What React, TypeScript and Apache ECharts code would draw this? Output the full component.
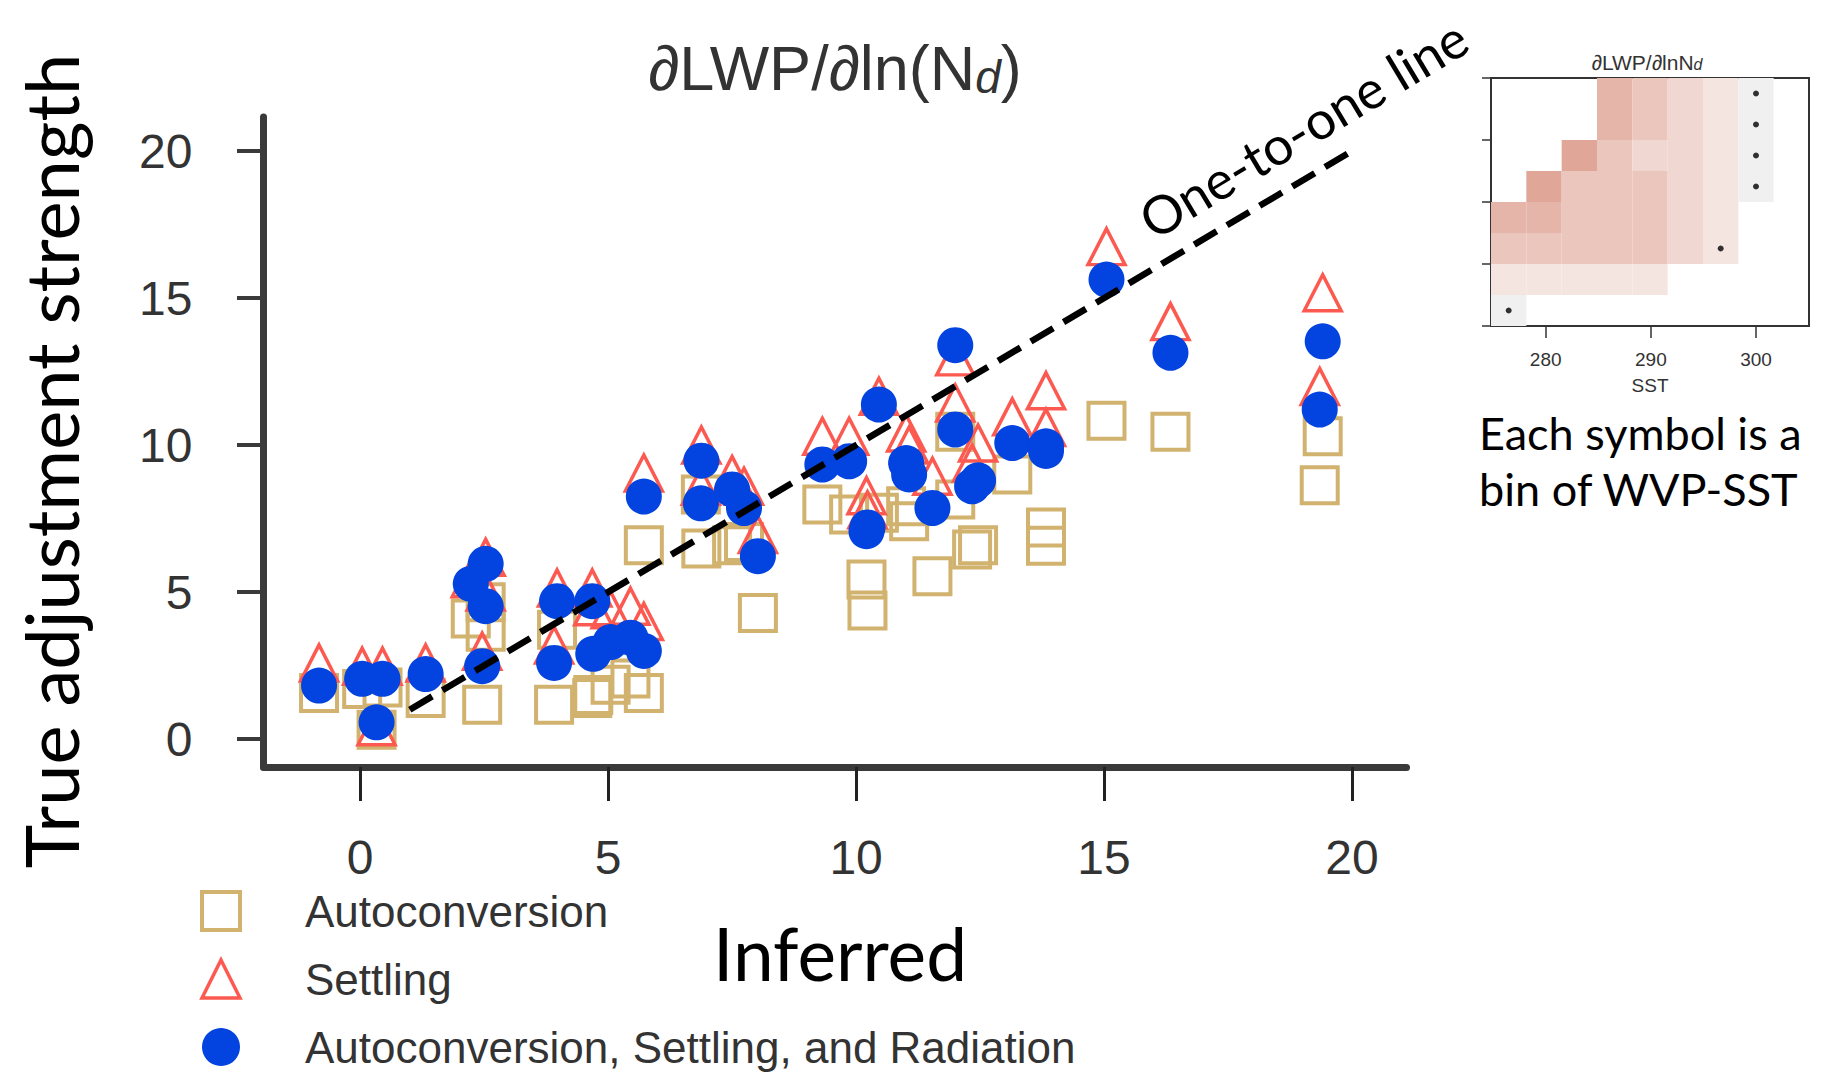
import React, { useEffect, useRef } from 'react';
import * as echarts from 'echarts';

// ---------- main scatter data (one entry per WVP-SST bin) ----------
const inferred = [-0.83, 0.04, 0.45, 0.33, 1.32, 2.46, 2.23, 2.53, 2.53, 3.91, 3.97, 4.68, 4.70, 5.05, 5.45, 5.72, 5.72, 6.88, 6.87, 7.50, 7.74, 8.02, 9.32, 9.86, 10.21, 10.23, 10.46, 11.01, 11.07, 11.54, 12.00, 12.00, 12.34, 12.46, 13.15, 13.83, 13.83, 15.05, 16.34, 19.41, 19.35];
const trueAutoconversion = [1.57, 1.70, 1.75, 0.32, 1.40, 1.17, 4.10, 4.65, 3.65, 1.17, 3.72, 1.40, 1.50, 1.85, 2.06, 1.57, 6.59, 6.48, 8.32, 6.59, 6.70, 4.29, 7.98, 7.64, 5.43, 4.37, 7.70, 7.92, 7.41, 5.54, 10.45, 8.15, 6.45, 6.59, 9.00, 7.20, 6.58, 10.83, 10.45, 10.30, 8.63];
const trueSettling = [2.59, 2.48, 2.48, 0.42, 2.59, 2.99, 5.45, 6.18, 5.00, 3.20, 5.14, 5.14, 4.50, 4.40, 4.52, 4.00, 9.05, 10.00, 8.60, 9.00, 8.60, 6.96, 10.30, 10.30, 8.28, 7.80, 11.66, 10.41, 10.00, 8.94, 13.00, 11.43, 9.39, 10.07, 10.96, 11.85, 10.60, 16.75, 14.20, 15.18, 11.99];
const trueAllProcesses = [1.82, 2.05, 2.05, 0.57, 2.21, 2.48, 5.28, 5.96, 4.52, 2.59, 4.69, 4.69, 2.90, 3.30, 3.45, 3.00, 8.25, 9.47, 8.02, 8.49, 7.86, 6.22, 9.34, 9.45, 7.07, 7.20, 11.38, 9.39, 9.00, 7.86, 13.40, 10.53, 8.60, 8.80, 10.07, 9.96, 9.80, 15.63, 13.14, 13.53, 11.21];
const oneToOne = [1, 20];
const mainTicks = [0, 5, 10, 15, 20];
const seriesNames = ['Autoconversion', 'Settling', 'Autoconversion, Settling, and Radiation'];

// ---------- inset heatmap (WVP-SST bins) ----------
const sstTicks = [280, 290, 300];
const sstBinStart = 274.8;
const sstBinWidth = 3.36;
const wvpRowCount = 8;
// rows listed from top to bottom, 9 SST columns; -1 = empty bin
const heatLevels = [
  [-1, -1, -1, 4, 3, 2, 1, 0, -1],
  [-1, -1, -1, 4, 3, 2, 1, 0, -1],
  [-1, -1, 5, 3, 2, 2, 1, 0, -1],
  [-1, 5, 3, 3, 3, 2, 1, 0, -1],
  [4, 4, 3, 3, 3, 2, 1, -1, -1],
  [3, 3, 3, 3, 3, 2, 1, -1, -1],
  [1, 1, 1, 1, 1, -1, -1, -1, -1],
  [0, -1, -1, -1, -1, -1, -1, -1, -1],
];
const levelColors = ['#f0f0f0', '#f5e5e1', '#f1d7d1', '#eac6bd', '#e4b5a8', '#e0a698'];
// [column, row-from-top] of bins marked with a dot
const dotCells = [[7, 0], [7, 1], [7, 2], [7, 3], [6, 5], [0, 7]];

const TAN = '#d1b26f';
const CORAL = '#fc5a50';
const BLUE = '#0343df';
const ARIAL = "'Liberation Sans', Arial, Helvetica, sans-serif";
const CALIBRI = "Lato, 'Open Sans', sans-serif";
const TXT = '#333333';

function buildOption() {
  const heatData: number[][] = [];
  heatLevels.forEach((row, r) => {
    row.forEach((lv, c) => {
      if (lv >= 0) {
        const y0 = wvpRowCount - 1 - r;
        heatData.push([sstBinStart + c * sstBinWidth, sstBinStart + (c + 1) * sstBinWidth, y0, y0 + 1, lv]);
      }
    });
  });
  const dotData = dotCells.map(([c, r]) => [sstBinStart + (c + 0.5) * sstBinWidth, wvpRowCount - 1 - r + 0.5]);

  const zip = (ys: number[]) => inferred.map((x, i) => [x, ys[i]]);

  return {
    animation: false,
    backgroundColor: '#ffffff',
    textStyle: { fontFamily: ARIAL },
    grid: [
      { left: 263.5, top: 117, width: 1143, height: 650, outerBoundsMode: 'none', containLabel: false },
      {
        left: 1491, top: 78, width: 318, height: 248, show: true, borderColor: '#333333', borderWidth: 2,
        backgroundColor: 'rgba(0,0,0,0)', outerBoundsMode: 'none', containLabel: false,
      },
    ],
    xAxis: [
      {
        type: 'value', gridIndex: 0, min: -1.95, max: 21.1,
        axisLine: { show: true, onZero: false, lineStyle: { color: '#3a3a3a', width: 7 } },
        axisTick: { show: true, customValues: mainTicks, length: 34, lineStyle: { color: '#222222', width: 3 } },
        axisLabel: { show: true, customValues: mainTicks, margin: 66, fontSize: 48, fontFamily: ARIAL, color: TXT },
        splitLine: { show: false },
      },
      {
        type: 'value', gridIndex: 1, min: sstBinStart, max: sstBinStart + 9 * sstBinWidth,
        axisLine: { show: false, onZero: false },
        axisTick: { show: true, customValues: sstTicks, length: 12, lineStyle: { color: '#333333', width: 1.5 } },
        axisLabel: { show: true, customValues: sstTicks, margin: 24, fontSize: 19, fontFamily: ARIAL, color: TXT },
        splitLine: { show: false },
      },
    ],
    yAxis: [
      {
        type: 'value', gridIndex: 0, min: -0.95, max: 21.16,
        axisLine: { show: true, onZero: false, lineStyle: { color: '#3a3a3a', width: 7 } },
        axisTick: { show: true, customValues: mainTicks, length: 26.5, lineStyle: { color: '#3a3a3a', width: 4 } },
        axisLabel: { show: true, customValues: mainTicks, margin: 71, fontSize: 48, fontFamily: ARIAL, color: TXT },
        splitLine: { show: false },
      },
      {
        type: 'value', gridIndex: 1, min: 0, max: wvpRowCount, interval: 2,
        axisLine: { show: false, onZero: false },
        axisTick: { show: true, length: 9, lineStyle: { color: '#333333', width: 1.5 } },
        axisLabel: { show: false },
        splitLine: { show: false },
      },
    ],
    legend: {
      show: true, type: 'plain', orient: 'vertical', left: 195, top: 884, width: 900, height: 240,
      itemWidth: 38, itemHeight: 38, itemGap: 24, selectedMode: false,
      textStyle: { fontSize: 44, fontFamily: ARIAL, color: TXT, lineHeight: 38, padding: [0, 0, 0, 60] },
      data: [
        { name: seriesNames[0], icon: 'rect', itemStyle: { color: 'rgba(0,0,0,0)', borderColor: TAN, borderWidth: 4 } },
        { name: seriesNames[1], icon: 'triangle', itemStyle: { color: 'rgba(0,0,0,0)', borderColor: CORAL, borderWidth: 3.5 } },
        { name: seriesNames[2], icon: 'circle', itemStyle: { color: BLUE, borderWidth: 0 } },
      ],
    },
    series: [
      {
        name: seriesNames[0], type: 'scatter', xAxisIndex: 0, yAxisIndex: 0, data: zip(trueAutoconversion),
        symbol: 'rect', symbolSize: 36, silent: true, z: 2,
        itemStyle: { color: 'rgba(0,0,0,0)', borderColor: TAN, borderWidth: 4, opacity: 1 },
      },
      {
        name: seriesNames[1], type: 'scatter', xAxisIndex: 0, yAxisIndex: 0, data: zip(trueSettling),
        symbol: 'triangle', symbolSize: [37, 36], silent: true, z: 3,
        itemStyle: { color: 'rgba(0,0,0,0)', borderColor: CORAL, borderWidth: 3.5, opacity: 1 },
      },
      {
        name: seriesNames[2], type: 'scatter', xAxisIndex: 0, yAxisIndex: 0, data: zip(trueAllProcesses),
        symbol: 'circle', symbolSize: 36, silent: true, z: 4,
        itemStyle: { color: BLUE, borderWidth: 0, opacity: 1 },
      },
      {
        name: 'One-to-one line', type: 'line', xAxisIndex: 0, yAxisIndex: 0,
        data: [[oneToOne[0], oneToOne[0]], [oneToOne[1], oneToOne[1]]],
        symbol: 'none', silent: true, z: 6,
        lineStyle: { color: '#000000', width: 6.5, type: [26, 12], cap: 'butt' },
      },
      {
        name: 'WVP-SST bins', type: 'custom', xAxisIndex: 1, yAxisIndex: 1, data: heatData,
        encode: { x: [0, 1], y: [2, 3] }, silent: true, z: 1, clip: true,
        renderItem: (params: any, api: any) => {
          const p0 = api.coord([api.value(0), api.value(2)]);
          const p1 = api.coord([api.value(1), api.value(3)]);
          return {
            type: 'rect',
            shape: { x: p0[0], y: p1[1], width: p1[0] - p0[0], height: p0[1] - p1[1] },
            style: { fill: levelColors[api.value(4)], stroke: null },
          };
        },
      },
      {
        name: 'Marked bins', type: 'scatter', xAxisIndex: 1, yAxisIndex: 1, data: dotData,
        symbol: 'circle', symbolSize: 6, silent: true, z: 3,
        itemStyle: { color: '#000000' },
      },
    ],
    graphic: [
      {
        type: 'text', x: 835, y: 68, silent: true,
        style: {
          text: '{a|∂LWP/∂ln(N}{s|d}{a|)}', align: 'center', verticalAlign: 'middle',
          rich: {
            a: { fontSize: 63, fontFamily: ARIAL, fill: TXT, lineHeight: 63 },
            s: { fontSize: 46, fontFamily: ARIAL, fontStyle: 'italic', fill: TXT, lineHeight: 32, verticalAlign: 'bottom' },
          },
        },
      },
      {
        type: 'text', x: 840, y: 953, silent: true,
        style: { text: 'Inferred', fontSize: 73, fontFamily: CALIBRI, fill: '#000000', align: 'center', verticalAlign: 'middle' },
      },
      {
        type: 'text', x: 50, y: 461, rotation: Math.PI / 2, silent: true,
        style: { text: 'True adjustment strength', fontSize: 74, fontFamily: CALIBRI, fill: '#000000', align: 'center', verticalAlign: 'middle' },
      },
      {
        type: 'text', x: 1303, y: 128, rotation: (31 * Math.PI) / 180, silent: true,
        style: { text: 'One-to-one line', fontSize: 53, fontFamily: CALIBRI, fill: '#000000', align: 'center', verticalAlign: 'middle' },
      },
      {
        type: 'text', x: 1647, y: 62, silent: true,
        style: {
          text: '{a|∂LWP/∂lnN}{s|d}', align: 'center', verticalAlign: 'middle',
          rich: {
            a: { fontSize: 21, fontFamily: ARIAL, fill: TXT, lineHeight: 21 },
            s: { fontSize: 16, fontFamily: ARIAL, fontStyle: 'italic', fill: TXT, lineHeight: 11, verticalAlign: 'bottom' },
          },
        },
      },
      {
        type: 'text', x: 1650, y: 385, silent: true,
        style: { text: 'SST', fontSize: 19, fontFamily: ARIAL, fill: TXT, align: 'center', verticalAlign: 'middle' },
      },
      {
        type: 'text', x: 1479, y: 433, silent: true,
        style: { text: 'Each symbol is a', fontSize: 45, fontFamily: CALIBRI, fill: '#000000', align: 'left', verticalAlign: 'middle' },
      },
      {
        type: 'text', x: 1479, y: 489, silent: true,
        style: { text: 'bin of WVP-SST', fontSize: 45, fontFamily: CALIBRI, fill: '#000000', align: 'left', verticalAlign: 'middle' },
      },
    ],
  };
}

export default function App() {
  const ref = useRef<HTMLDivElement>(null);
  useEffect(() => {
    if (!ref.current) return;
    const chart = echarts.init(ref.current, null, { renderer: 'svg' });
    chart.setOption(buildOption() as any);
    return () => chart.dispose();
  }, []);
  return (
    <div
      ref={ref}
      style={{ position: 'fixed', left: 0, top: 0, width: 1829, height: 1074, background: '#ffffff' }}
    />
  );
}
